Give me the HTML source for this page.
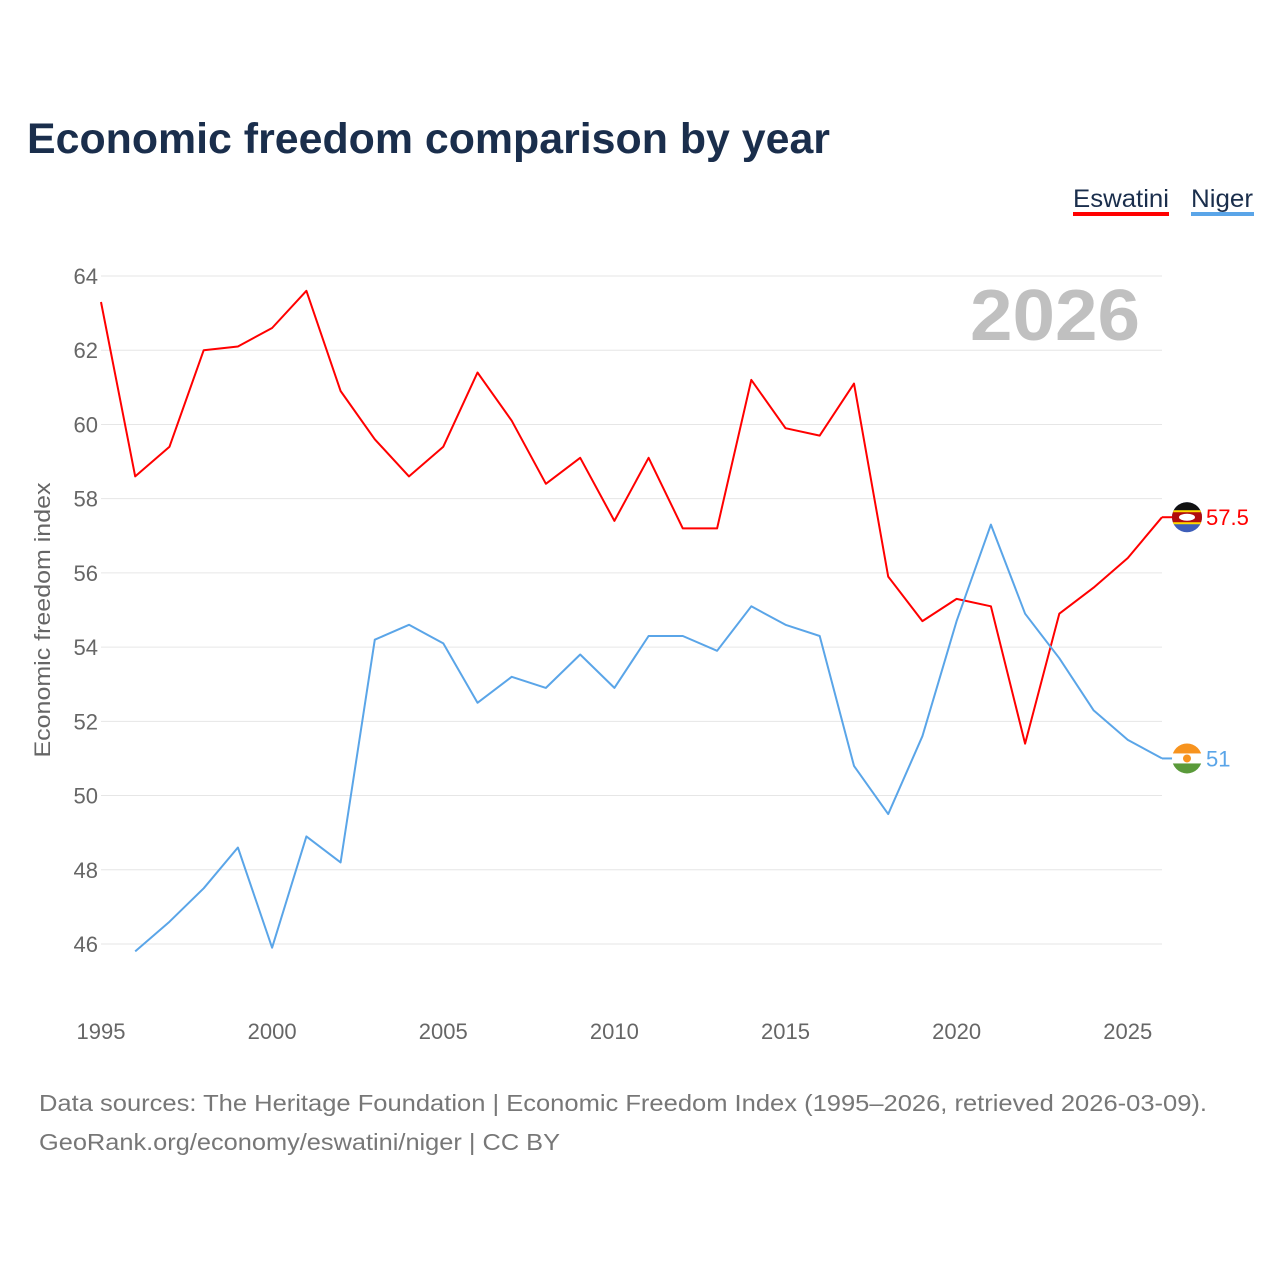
<!DOCTYPE html>
<html><head><meta charset="utf-8"><style>
body{margin:0;background:#fff;font-family:"Liberation Sans",sans-serif;}
#wrap{position:relative;width:1280px;height:1280px;overflow:hidden;}
</style></head><body><div id="wrap">
<svg id="chart" width="1280" height="1280"></svg>
</div>
<script>
const years=[1995,1996,1997,1998,1999,2000,2001,2002,2003,2004,2005,2006,2007,2008,2009,2010,2011,2012,2013,2014,2015,2016,2017,2018,2019,2020,2021,2022,2023,2024,2025,2026];
const eswatini=[63.3,58.6,59.4,62.0,62.1,62.6,63.6,60.9,59.6,58.6,59.4,61.4,60.1,58.4,59.1,57.4,59.1,57.2,57.2,61.2,59.9,59.7,61.1,55.9,54.7,55.3,55.1,51.4,54.9,55.6,56.4,57.5];
const niger=[null,45.8,46.6,47.5,48.6,45.9,48.9,48.2,54.2,54.6,54.1,52.5,53.2,52.9,53.8,52.9,54.3,54.3,53.9,55.1,54.6,54.3,50.8,49.5,51.6,54.7,57.3,54.9,53.7,52.3,51.5,51.0];
const yTicks=[46,48,50,52,54,56,58,60,62,64];
const xTicks=[1995,2000,2005,2010,2015,2020,2025];
const x=v=>101+(v-1995)*(1162-101)/31;
const y=v=>276+(64-v)*(944-276)/18;
const svg=document.getElementById('chart');
const NS='http://www.w3.org/2000/svg';
function mk(t,a,txt,parent){const e=document.createElementNS(NS,t);for(const k in a)e.setAttribute(k,a[k]);if(txt!=null)e.textContent=txt;(parent||svg).appendChild(e);return e;}
let e;
e=mk('text',{x:27,y:153,'font-size':43,'font-weight':'bold',fill:'#1a2e4c',textLength:803,lengthAdjust:'spacingAndGlyphs'},'Economic freedom comparison by year');


e=mk('text',{x:1073,y:207,'font-size':25,fill:'#1a2e4c',textLength:96,lengthAdjust:'spacingAndGlyphs'},'Eswatini');


mk('rect',{x:1073,y:212,width:96,height:4,fill:'#ff0000'});
e=mk('text',{x:1191,y:207,'font-size':25,fill:'#1a2e4c',textLength:62,lengthAdjust:'spacingAndGlyphs'},'Niger');


mk('rect',{x:1191,y:212,width:63,height:4,fill:'#5aa5e8'});
yTicks.forEach(t=>{
 e=mk('line',{x1:101,x2:1162,y1:y(t),y2:y(t),stroke:'#e6e6e6','stroke-width':1});
 
 
 e=mk('text',{x:98,y:y(t)+8,'font-size':22,fill:'#666','text-anchor':'end'},String(t));
 
 
});
xTicks.forEach(t=>{
 e=mk('text',{x:x(t),y:1039,'font-size':22,fill:'#666','text-anchor':'middle'},String(t));
 
 
});
e=mk('text',{x:0,y:0,'font-size':22,fill:'#666','text-anchor':'middle',textLength:275,lengthAdjust:'spacingAndGlyphs',transform:'translate(50,620) rotate(-90)'},'Economic freedom index');


e=mk('text',{x:1140,y:340,'font-size':72,'font-weight':'bold',fill:'#c0c0c0','text-anchor':'end',textLength:170,lengthAdjust:'spacingAndGlyphs'},'2026');


function line(data,color,name){
 let d='';data.forEach((v,i)=>{if(v==null)return;d+=(d?'L':'M')+x(years[i]).toFixed(1)+','+y(v).toFixed(1);});
 const p=mk('path',{d:d,fill:'none',stroke:color,'stroke-width':2,'stroke-linejoin':'round'});
 
 
}
line(eswatini,'#ff0000','eswatini-line');
line(niger,'#5aa5e8','niger-line');
const le=eswatini[eswatini.length-1], ln=niger[niger.length-1];
const defs=mk('defs',{});
const cp1=mk('clipPath',{id:'c1'},null,defs);mk('circle',{cx:1187,cy:y(le),r:15},null,cp1);
const cp2=mk('clipPath',{id:'c2'},null,defs);mk('circle',{cx:1187,cy:y(ln),r:15},null,cp2);
mk('line',{x1:1162,x2:1175,y1:y(le),y2:y(le),stroke:'#ff0000','stroke-width':2});
mk('line',{x1:1162,x2:1175,y1:y(ln),y2:y(ln),stroke:'#5aa5e8','stroke-width':2});
const g1=mk('g',{'clip-path':'url(#c1)'});


mk('rect',{x:1170,y:y(le)-16,width:34,height:32,fill:'#3e5eb9'},null,g1);
mk('rect',{x:1170,y:y(le)-16,width:34,height:10,fill:'#111'},null,g1);
mk('rect',{x:1170,y:y(le)-6,width:34,height:12,fill:'#b10c0c'},null,g1);
mk('rect',{x:1170,y:y(le)-7,width:34,height:2,fill:'#ffd900'},null,g1);
mk('rect',{x:1170,y:y(le)+5,width:34,height:2,fill:'#ffd900'},null,g1);
mk('ellipse',{cx:1187,cy:y(le),rx:8,ry:3.5,fill:'#fff'},null,g1);
e=mk('text',{x:1206,y:y(le)+8,'font-size':22,fill:'#ff0000'},String(le));


const g2=mk('g',{'clip-path':'url(#c2)'});


mk('rect',{x:1170,y:y(ln)-16,width:34,height:32,fill:'#fff'},null,g2);
mk('rect',{x:1170,y:y(ln)-16,width:34,height:11,fill:'#f7931e'},null,g2);
mk('rect',{x:1170,y:y(ln)+5,width:34,height:11,fill:'#5a9a3a'},null,g2);
mk('circle',{cx:1187,cy:y(ln),r:4,fill:'#f7931e'},null,g2);
e=mk('text',{x:1206,y:y(ln)+8,'font-size':22,fill:'#5aa5e8'},String(ln));


e=mk('text',{x:39,y:1111,'font-size':23,fill:'#777',textLength:1168,lengthAdjust:'spacingAndGlyphs'},'Data sources: The Heritage Foundation | Economic Freedom Index (1995–2026, retrieved 2026-03-09).');


e=mk('text',{x:39,y:1150,'font-size':23,fill:'#777',textLength:521,lengthAdjust:'spacingAndGlyphs'},'GeoRank.org/economy/eswatini/niger | CC BY');


</script></body></html>
